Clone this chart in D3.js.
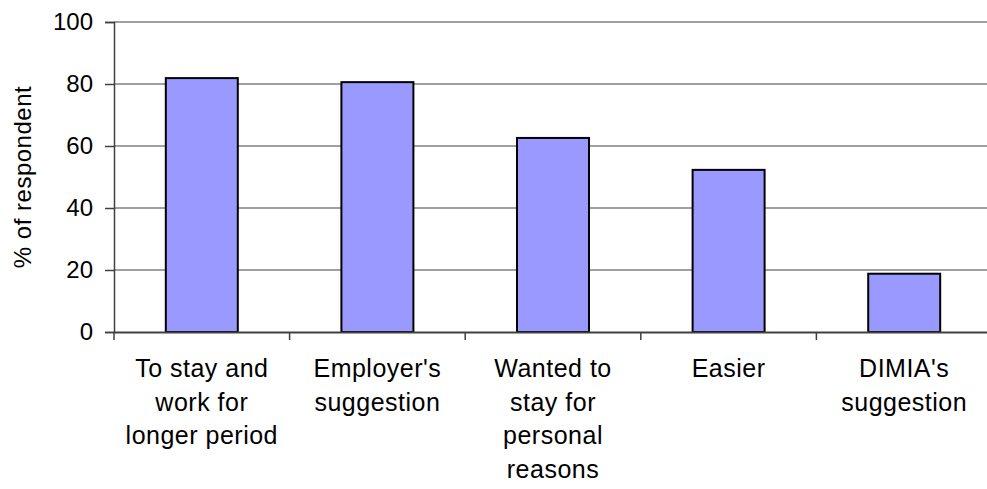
<!DOCTYPE html>
<html>
<head>
<meta charset="utf-8">
<script src="https://cdn.jsdelivr.net/npm/d3@7"></script>
<style>
  body { margin: 0; background: #fff; }
  text { font-family: "Liberation Sans", Arial, sans-serif; fill: #000; }
</style>
</head>
<body>
<svg></svg>
<script>
// Dados do gráfico
const categories = [
    ["To stay and", "work for", "longer period"],
    ["Employer's", "suggestion"],
    ["Wanted to", "stay for", "personal", "reasons"],
    ["Easier"],
    ["DIMIA's", "suggestion"]
];
const values = [81.9, 80.6, 62.6, 52.3, 18.8];
const yTicks = [0, 20, 40, 60, 80, 100];

// Dimensões
const width = 987;
const height = 489;
const margin = { top: 22, right: -5, bottom: 157, left: 114 };

const svg = d3.select("svg")
    .attr("width", width)
    .attr("height", height);

const x = d3.scaleBand()
    .domain(d3.range(values.length))
    .range([margin.left, width - margin.right])
    .padding(0);

const y = d3.scaleLinear()
    .domain([0, 100])
    .range([height - margin.bottom, margin.top]);

// Linhas de grade
svg.append("g")
    .selectAll("line")
    .data(yTicks.filter(d => d > 0))
    .enter().append("line")
    .attr("x1", margin.left)
    .attr("x2", width - margin.right)
    .attr("y1", d => y(d))
    .attr("y2", d => y(d))
    .attr("stroke", "#808080")
    .attr("stroke-width", 1.5);

// Eixo Y
const yAxis = svg.append("g")
    .attr("transform", `translate(${margin.left},0)`)
    .call(d3.axisLeft(y).tickValues(yTicks).tickSize(9).tickPadding(12));
yAxis.select(".domain").attr("stroke", "#404040").attr("stroke-width", 1.5);
yAxis.selectAll(".tick line").attr("stroke", "#404040").attr("stroke-width", 1.5);
yAxis.selectAll(".tick text")
    .style("font-size", "24px")
    .attr("fill", "#000");

// Barras
const barW = x.bandwidth() * 0.41;
svg.append("g")
    .selectAll("rect")
    .data(values)
    .enter().append("rect")
    .attr("x", (d, i) => x(i) + (x.bandwidth() - barW) / 2)
    .attr("y", d => y(d))
    .attr("width", barW)
    .attr("height", d => y(0) - y(d))
    .attr("fill", "#9999FF")
    .attr("stroke", "#000")
    .attr("stroke-width", 2);

// Eixo X
const xAxis = svg.append("g")
    .attr("transform", `translate(0,${y(0)})`)
    .call(d3.axisBottom(x).tickFormat("").tickSize(0));
xAxis.select(".domain").attr("stroke", "#404040").attr("stroke-width", 2);

// Marcas entre categorias
svg.append("g")
    .selectAll("line")
    .data(d3.range(values.length + 1))
    .enter().append("line")
    .attr("x1", i => i < values.length ? x(i) : x(i - 1) + x.bandwidth())
    .attr("x2", i => i < values.length ? x(i) : x(i - 1) + x.bandwidth())
    .attr("y1", y(0))
    .attr("y2", y(0) + 8)
    .attr("stroke", "#404040")
    .attr("stroke-width", 1.5);

// Rótulos das categorias
const labels = svg.append("g")
    .selectAll("text")
    .data(categories)
    .enter().append("text")
    .attr("text-anchor", "middle")
    .style("font-size", "25px")
    .style("letter-spacing", "0.5px")
    .attr("transform", (d, i) => `translate(${x(i) + x.bandwidth() / 2},377)`);

labels.selectAll("tspan")
    .data(d => d)
    .enter().append("tspan")
    .attr("x", 0)
    .attr("y", (d, j) => j * 33.5)
    .text(d => d);

// Título do eixo Y
svg.append("text")
    .attr("transform", `translate(31,${(y(0) + y(100)) / 2}) rotate(-90)`)
    .attr("text-anchor", "middle")
    .style("font-size", "24px")
    .style("letter-spacing", "0.5px")
    .text("% of respondent");
</script>
</body>
</html>
